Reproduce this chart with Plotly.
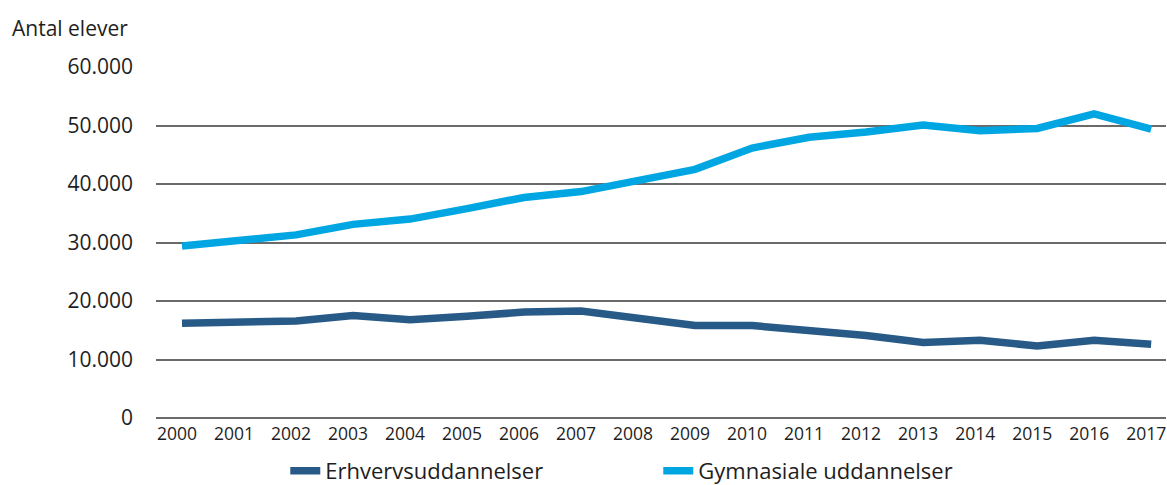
import plotly.graph_objects as go

years = list(range(2000, 2018))
erhverv = [16200, 16400, 16600, 17500, 16800, 17400, 18100, 18300, 17050, 15800,
           15800, 15000, 14100, 12900, 13300, 12300, 13300, 12600]
gymnasiale = [29400, 30400, 31300, 33100, 34000, 35800, 37700, 38700, 40600, 42500,
              46150, 48000, 48900, 50100, 49100, 49500, 52000, 49400]
y_ticks = [0, 10000, 20000, 30000, 40000, 50000, 60000]
series_names = ["Erhvervsuddannelser", "Gymnasiale uddannelser"]
colors = ["#285a87", "#00a6e2"]

FONT = "Open Sans, DejaVu Sans, sans-serif"
TXT = "#1e1e1e"

fig = go.Figure()
for name, vals, col in zip(series_names, [erhverv, gymnasiale], colors):
    fig.add_trace(go.Scatter(x=years, y=vals, name=name, mode="lines",
                             line=dict(color=col, width=7.5)))

fig.update_layout(
    width=1167, height=485,
    margin=dict(l=156, r=1, t=67, b=67, autoexpand=False),
    paper_bgcolor="white", plot_bgcolor="white",
    separators=",.",
    font=dict(family=FONT, color=TXT),
    showlegend=True,
    legend=dict(orientation="h", x=0.128, y=-0.151, xanchor="left", yanchor="middle",
                font=dict(size=22, color=TXT, family=FONT), entrywidth=328,
                traceorder="normal", bgcolor="rgba(0,0,0,0)"),
    annotations=[dict(text="Antal elever", xref="paper", yref="paper",
                      x=-0.1446, y=1.111, xanchor="left", yanchor="middle",
                      showarrow=False, font=dict(size=21, color=TXT, family=FONT))],
)
fig.update_xaxes(range=[1999.544, 2017.26], tickvals=years, ticktext=[str(y) for y in years],
                 showgrid=False, zeroline=False, showline=False, ticks="",
                 ticklabeloverflow="allow", ticklabelshift=-5,
                 tickfont=dict(size=17.5, color=TXT, family=FONT), ticklabelstandoff=3)
fig.update_yaxes(range=[0, 60000], tickvals=y_ticks, tickformat=",d",
                 showgrid=True, gridcolor="#6a6a6a", gridwidth=1.5,
                 zeroline=True, zerolinecolor="#6a6a6a", zerolinewidth=1.5,
                 showline=False, ticks="", ticklabelstandoff=22,
                 tickfont=dict(size=21, color=TXT, family=FONT))

# remove the default page margin so the figure fills the window exactly
fig.write_html(
    "out.html",
    config={"displayModeBar": False},
    post_script="document.body.style.margin='0';"
                "document.body.style.overflow='hidden';"
                "document.documentElement.style.overflow='hidden';",
)
